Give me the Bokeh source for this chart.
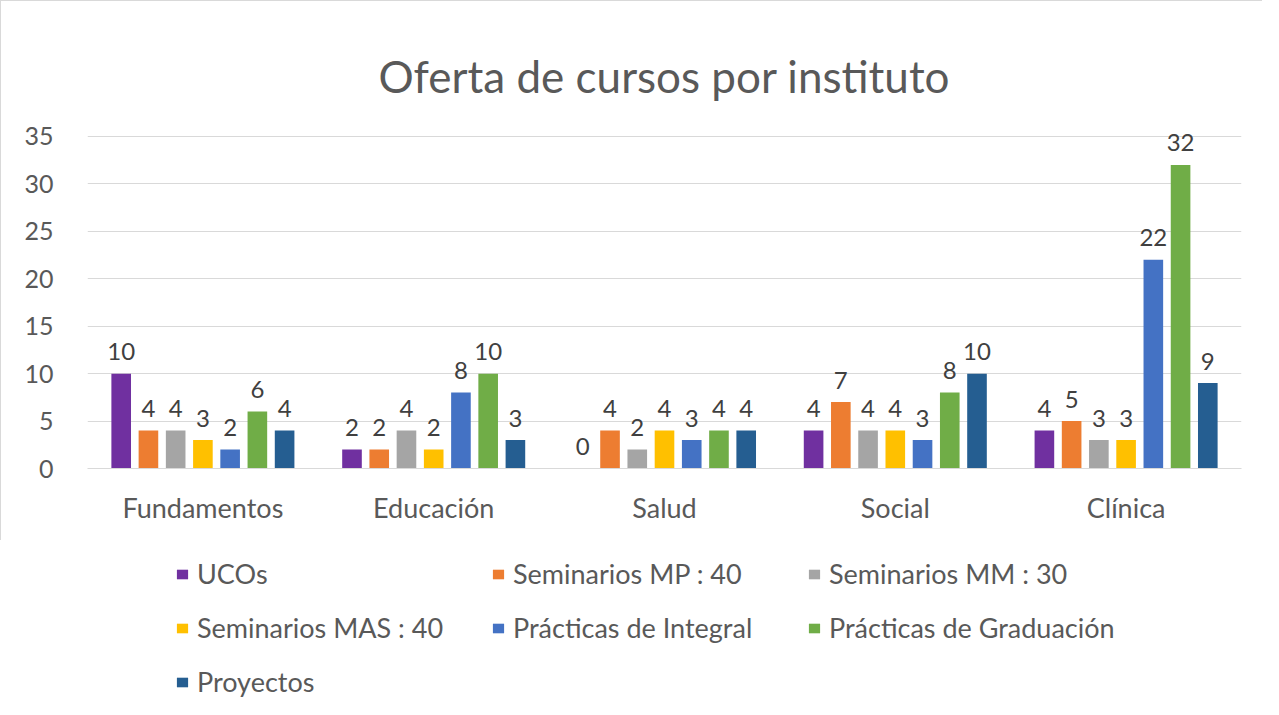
from bokeh.plotting import figure
from bokeh.layouts import column
from bokeh.models import ColumnDataSource, FactorRange, Range1d, FixedTicker, Legend, LegendItem
from bokeh.transform import dodge
from bokeh.core.properties import value
from bokeh.embed import file_html
from bokeh.resources import INLINE

categories = ["Fundamentos", "Educación", "Salud", "Social", "Clínica"]
series_names = ["UCOs", "Seminarios MP : 40", "Seminarios MM : 30", "Seminarios MAS : 40",
                "Prácticas de Integral", "Prácticas de Graduación", "Proyectos"]
ucos = [10, 2, 0, 4, 4]
sem_mp = [4, 2, 4, 7, 5]
sem_mm = [4, 4, 2, 4, 3]
sem_mas = [3, 2, 4, 4, 3]
prac_integral = [2, 8, 3, 3, 22]
prac_grad = [6, 10, 4, 8, 32]
proyectos = [4, 3, 4, 10, 9]
colors = ["#7030A0", "#ED7D31", "#A5A5A5", "#FFC000", "#4472C4", "#70AD47", "#255E91"]
y_ticks = [0, 5, 10, 15, 20, 25, 30, 35]

series_values = [ucos, sem_mp, sem_mm, sem_mas, prac_integral, prac_grad, proyectos]
keys = [f"s{i}" for i in range(len(series_values))]
data = {"cat": categories}
for k, vals in zip(keys, series_values):
    data[k] = vals
    data[k + "_lbl"] = [str(v) for v in vals]
source = ColumnDataSource(data)

FONT = "Lato"
TXT = "#595959"
W = 1262
PH = 540

p = figure(x_range=FactorRange(*categories, range_padding=0), y_range=Range1d(0, 37),
           width=W, height=PH, output_backend="svg", toolbar_location=None,
           min_border_left=86, min_border_right=22, min_border_top=116, min_border_bottom=73)
p.x_range.range_padding = 0

slot = 0.118
bw = 0.085
for i, (k, c) in enumerate(zip(keys, colors)):
    off = (i - 3) * slot
    p.vbar(x=dodge("cat", off, range=p.x_range), top=k, width=bw, source=source,
           fill_color=c, line_color=None)
    p.text(x=dodge("cat", off, range=p.x_range), y=k, text=k + "_lbl", source=source,
           text_align="center", text_baseline="alphabetic", y_offset=-22,
           text_font=value(FONT), text_font_size="24px", text_color="#404040")

p.title.text = "Oferta de cursos por instituto"
p.title.align = "center"
p.title.text_font = FONT
p.title.text_font_style = "normal"
p.title.text_font_size = "44px"
p.title.text_color = TXT
p.title.standoff = 32

p.yaxis.ticker = FixedTicker(ticks=y_ticks)
p.yaxis.axis_line_color = None
p.yaxis.major_tick_line_color = None
p.yaxis.minor_tick_line_color = None
p.yaxis.major_label_text_font = FONT
p.yaxis.major_label_text_font_size = "25px"
p.yaxis.major_label_text_color = TXT
p.yaxis.major_label_standoff = 28

p.xaxis.axis_line_color = "#D9D9D9"
p.xaxis.major_tick_line_color = None
p.xaxis.minor_tick_line_color = None
p.xaxis.major_label_text_font = FONT
p.xaxis.major_label_text_font_size = "27px"
p.xaxis.major_label_text_color = TXT
p.xaxis.major_label_standoff = 16

p.xgrid.grid_line_color = None
p.ygrid.grid_line_color = "#D9D9D9"
p.outline_line_color = None
p.styles = {"border-top": "1px solid #D9D9D9", "border-left": "1px solid #D9D9D9"}

# legend panel (frame aligned with the chart frame by the column layout)
LH = 699 - PH
lp = figure(width=W, height=LH, output_backend="svg", toolbar_location=None,
            x_axis_type=None, y_axis_type=None, x_range=Range1d(0, 1), y_range=Range1d(0, 1),
            min_border_left=0, min_border_right=0, min_border_top=0, min_border_bottom=0)
lp.grid.visible = False
lp.outline_line_color = None
items = []
for name, c in zip(series_names, colors):
    r = lp.vbar(x=[0.5], top=[-2], bottom=[-3], width=0.01, fill_color=c, line_color=None)
    items.append(LegendItem(label=name, renderers=[r]))

legend = Legend(items=items, ncols=3, location=(89, 1), orientation="horizontal",
                label_text_font=FONT, label_text_font_size="27px", label_text_color=TXT,
                glyph_width=14, glyph_height=12, label_standoff=8, label_width=273,
                spacing=21, padding=0, margin=0, border_line_color=None,
                background_fill_alpha=0)
lp.add_layout(legend, "center")

layout = column(p, lp, spacing=0)
open("out.html", "w").write(file_html(layout, INLINE))
